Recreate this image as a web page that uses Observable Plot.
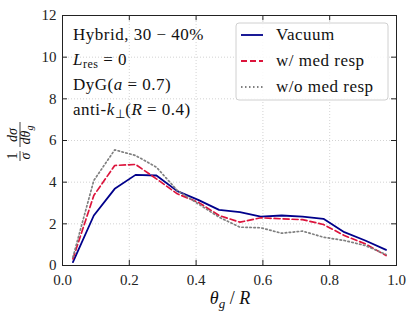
<!DOCTYPE html>
<html><head><meta charset="utf-8">
<script src="https://cdn.jsdelivr.net/npm/d3@7"></script>
<script src="https://cdn.jsdelivr.net/npm/@observablehq/plot@0.6"></script>
<style>
body{margin:0;background:#fff;}
#chart{position:relative;width:415px;height:320px;}
</style>
</head><body><div id="chart"></div>
<script>
const xBins = [0.03125,0.09375,0.15625,0.21875,0.28125,0.34375,0.40625,0.46875,0.53125,0.59375,0.65625,0.71875,0.78125,0.84375,0.90625,0.96875];
const vacuum = [0.16,2.4,3.68,4.35,4.32,3.57,3.15,2.67,2.56,2.35,2.4,2.35,2.24,1.6,1.2,0.75];
const withMed = [0.32,3.36,4.8,4.85,4.16,3.44,3.04,2.4,2.08,2.29,2.24,2.2,1.97,1.44,1.04,0.48];
const withoutMed = [0.4,4.08,5.55,5.28,4.72,3.6,2.96,2.32,1.84,1.81,1.55,1.65,1.36,1.2,0.96,0.53];
const seriesNames = ["Vacuum","w/ med resp","w/o med resp"];
const seriesColors = ["#00008b","#dc143c","#808080"];
const seriesDash = [null,"6,3","1.5,2.5"];
const xTicks = [0,0.2,0.4,0.6,0.8,1.0];
const yTicks = [0,2,4,6,8,10,12];

const seriesVals = [vacuum, withMed, withoutMed];
const data = seriesVals.flatMap((vals,i)=>vals.map((v,j)=>({x:xBins[j], y:v, s:seriesNames[i]})));

const W=415,H=320, mL=62, mR=19, mT=15, mB=55;
const font = "'Liberation Serif', serif";

const marks = [
  Plot.gridX(xTicks.slice(1,-1), {stroke:"#c8c8c8", strokeOpacity:1, strokeDasharray:"1,2", strokeWidth:0.8}),
  Plot.gridY(yTicks.slice(1,-1), {stroke:"#c8c8c8", strokeOpacity:1, strokeDasharray:"1,2", strokeWidth:0.8}),
  Plot.axisX(xTicks, {tickSize:0, tickPadding:9, tickFormat:d=>d.toFixed(1), fontSize:15, label:null}),
  Plot.axisY(yTicks, {tickSize:0, tickPadding:6, tickFormat:d=>String(d), fontSize:15, label:null}),
  Plot.ruleX(xTicks, {y1:0, y2:0.25, stroke:"#222", strokeWidth:1}),
  Plot.ruleX(xTicks, {y1:11.75, y2:12, stroke:"#222", strokeWidth:1}),
  Plot.ruleY(yTicks, {x1:0, x2:0.015, stroke:"#222", strokeWidth:1}),
  Plot.ruleY(yTicks, {x1:0.985, x2:1, stroke:"#222", strokeWidth:1}),
];
seriesNames.forEach((name,i)=>{
  marks.push(Plot.line(data.filter(d=>d.s===name), {x:"x", y:"y", stroke:seriesColors[i], strokeWidth: i===0?1.8:1.7, strokeDasharray: seriesDash[i]||undefined}));
});
marks.push(Plot.frame({stroke:"#222", strokeWidth:1}));

const plot = Plot.plot({
  width:W, height:H, marginLeft:mL, marginRight:mR, marginTop:mT, marginBottom:mB,
  style:{fontFamily:font, fontSize:"15px", background:"#fff", color:"#222"},
  x:{domain:[0,1]},
  y:{domain:[0,12]},
  marks
});
document.getElementById("chart").appendChild(plot);

const svg = d3.select(plot);
const ann = svg.append("g").attr("font-family", font).attr("font-size", 17).attr("letter-spacing",0.5).attr("fill","#111").attr("text-anchor","start");
function addParts(y, parts){
  const t = ann.append("text").attr("x",73).attr("y",y).attr("text-anchor","start");
  parts.forEach(p=>{
    const ts = t.append("tspan").text(p.t);
    if(p.i) ts.attr("font-style","italic");
    if(p.sub) ts.attr("baseline-shift","-25%").attr("font-size",12);
  });
}
addParts(40, [{t:"Hybrid, 30 − 40%"}]);
addParts(65, [{t:"L",i:1},{t:"res",sub:1},{t:" = 0"}]);
addParts(90, [{t:"DyG("},{t:"a",i:1},{t:" = 0.7)"}]);
addParts(115, [{t:"anti-"},{t:"k",i:1},{t:"⊥",sub:1},{t:"("},{t:"R",i:1},{t:" = 0.4)"}]);

const lg = svg.append("g").attr("font-family", font).attr("font-size", 17).attr("letter-spacing",0.5).attr("text-anchor","start");
lg.append("rect").attr("x",236).attr("y",23).attr("width",152).attr("height",77).attr("rx",3)
  .attr("fill","#fff").attr("fill-opacity",0.85).attr("stroke","#d0d0d0");
seriesNames.forEach((name,i)=>{
  const y = 35 + i*26;
  lg.append("line").attr("x1",241).attr("x2",263).attr("y1",y).attr("y2",y)
    .attr("stroke",seriesColors[i]).attr("stroke-width",1.8).attr("stroke-dasharray",seriesDash[i]);
  lg.append("text").attr("x",276).attr("y",y+5).attr("text-anchor","start").attr("fill","#111").text(name);
});

const xl = svg.append("text").attr("x",230).attr("y",304).attr("text-anchor","middle")
  .attr("font-family",font).attr("font-size",18).attr("fill","#111");
xl.append("tspan").attr("font-style","italic").text("θ");
xl.append("tspan").attr("font-style","italic").attr("font-size",13).attr("dy",4).text("g");
xl.append("tspan").attr("dy",-4).text(" / ");
xl.append("tspan").attr("font-style","italic").text("R");

const yl = svg.append("g").attr("transform","translate(20,141) rotate(-90)")
  .attr("font-family",font).attr("font-size",14).attr("fill","#111");
yl.append("text").attr("x",-15).attr("y",-3).attr("text-anchor","middle").text("1");
yl.append("line").attr("x1",-20).attr("x2",-10).attr("y1",0).attr("y2",0).attr("stroke","#111").attr("stroke-width",0.8);
yl.append("text").attr("x",-15).attr("y",10).attr("text-anchor","middle").attr("font-style","italic").text("σ");
const n2 = yl.append("text").attr("x",6).attr("y",-3).attr("text-anchor","middle").attr("font-style","italic");
n2.text("dσ");
yl.append("line").attr("x1",-6).attr("x2",19).attr("y1",0).attr("y2",0).attr("stroke","#111").attr("stroke-width",0.8);
const d2 = yl.append("text").attr("x",6).attr("y",10).attr("text-anchor","middle").attr("font-style","italic");
d2.append("tspan").text("dθ");
d2.append("tspan").attr("font-size",10).attr("dy",3).text("g");
</script>
</body></html>
